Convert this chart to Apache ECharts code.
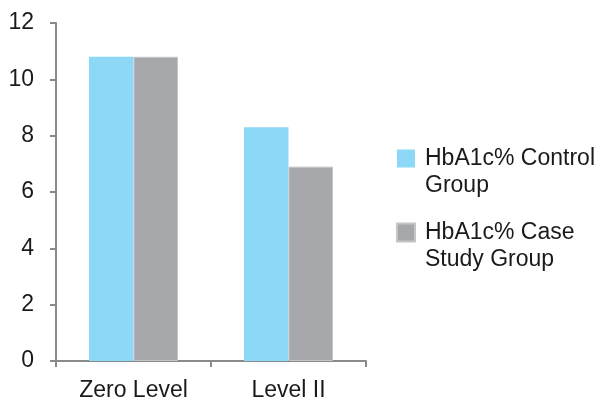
<!DOCTYPE html>
<html>
<head>
<meta charset="utf-8">
<script src="https://cdn.jsdelivr.net/npm/echarts@6/dist/echarts.min.js"></script>
<style>
  html, body { margin: 0; padding: 0; background: #fff; }
  #chart { width: 600px; height: 402px; }
</style>
</head>
<body>
<div id="chart"></div>
<script>
// HbA1c% by level, control vs case study group
const categories = ['Zero Level', 'Level II'];
const controlGroup = [10.8, 8.3];
const caseStudyGroup = [10.8, 6.9];
const seriesNames = ['HbA1c% Control Group', 'HbA1c% Case Study Group'];
// leading blank line keeps the first text line level with the swatch
const legendLabels = {
  'HbA1c% Control Group': '\nHbA1c% Control\nGroup',
  'HbA1c% Case Study Group': '\nHbA1c% Case\nStudy Group'
};

const font = '"Liberation Sans", Arial, sans-serif';
const axisColor = '#8a8a8a';
const textColor = '#1a1a1a';

const chart = echarts.init(document.getElementById('chart'), null, { renderer: 'canvas' });
chart.setOption({
  animation: false,
  backgroundColor: '#ffffff',
  grid: { left: 56, right: 234, top: 23, bottom: 40, containLabel: false },
  legend: {
    orient: 'vertical',
    left: 396,
    top: 118,
    padding: 0,
    itemWidth: 18,
    itemHeight: 18,
    itemGap: -7,
    icon: 'rect',
    selectedMode: false,
    data: seriesNames,
    formatter: name => legendLabels[name],
    textStyle: {
      fontFamily: font,
      fontSize: 23,
      color: textColor,
      lineHeight: 27,
      padding: [0, 0, 0, 5]
    }
  },
  xAxis: {
    type: 'category',
    data: categories,
    axisLine: { lineStyle: { color: axisColor, width: 2 } },
    axisTick: { show: true, alignWithLabel: false, length: 6, lineStyle: { color: axisColor, width: 2 } },
    axisLabel: { fontFamily: font, fontSize: 23, color: textColor, margin: 18 },
    splitLine: { show: false }
  },
  yAxis: {
    type: 'value',
    min: 0,
    max: 12,
    interval: 2,
    axisLine: { show: true, lineStyle: { color: axisColor, width: 2 } },
    axisTick: { show: true, length: 6, lineStyle: { color: axisColor, width: 2 } },
    axisLabel: { fontFamily: font, fontSize: 23, color: textColor, margin: 22 },
    splitLine: { show: false }
  },
  series: [
    {
      name: seriesNames[0],
      type: 'bar',
      data: controlGroup,
      barGap: '0%',
      barCategoryGap: '42.6%',
      itemStyle: { color: '#8dd7f7' }
    },
    {
      name: seriesNames[1],
      type: 'bar',
      data: caseStudyGroup,
      barGap: '0%',
      barCategoryGap: '42.6%',
      itemStyle: { color: '#a7a8ac', borderColor: '#c4c5c8', borderWidth: 1 }
    }
  ]
});
</script>
</body>
</html>
